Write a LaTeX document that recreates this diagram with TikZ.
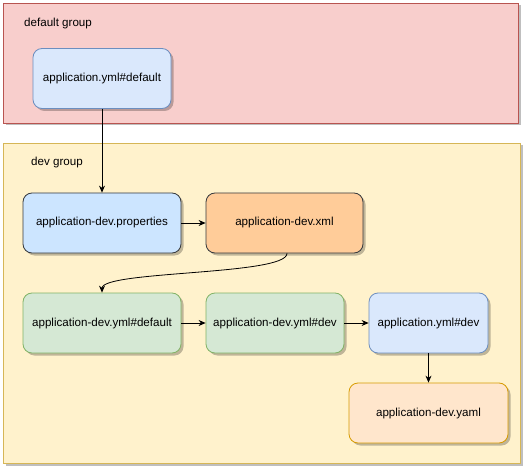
\documentclass[tikz,border=0pt]{standalone}
\usepackage{fontspec}
\setmainfont{Liberation Sans}
\usetikzlibrary{shadows,arrows.meta}
\definecolor{redfill}{HTML}{F8CECC}
\definecolor{redline}{HTML}{B85450}
\definecolor{yelfill}{HTML}{FFF2CC}
\definecolor{yelline}{HTML}{D6B656}
\definecolor{bluefill}{HTML}{DAE8FC}
\definecolor{blueline}{HTML}{6C8EBF}
\definecolor{lbluefill}{HTML}{CCE5FF}
\definecolor{darkline}{HTML}{36393D}
\definecolor{orfill}{HTML}{FFCC99}
\definecolor{grfill}{HTML}{D5E8D4}
\definecolor{grline}{HTML}{82B366}
\definecolor{pkfill}{HTML}{FFE6CC}
\definecolor{pkline}{HTML}{D79B00}
\tikzset{
  shad/.style={drop shadow={shadow xshift=2.5pt,shadow yshift=-2.5pt,fill=black,opacity=0.25}},
  grp/.style={draw, rectangle, shad, inner sep=0pt, line width=0.8pt},
  box/.style={draw, rectangle, rounded corners=9pt, shad, inner sep=0pt, line width=0.8pt,
    font=\fontsize{11.6}{14}\selectfont, minimum height=60pt},
  lbl/.style={font=\fontsize{11.6}{14}\selectfont, inner sep=0pt, anchor=west},
  conn/.style={draw=black, line width=0.8pt, -{Stealth[length=7pt,width=6pt]}}
}
\begin{document}
\begin{tikzpicture}[x=1pt,y=-1pt]
\useasboundingbox (0,0) rectangle (529,470);
\node[grp, fill=redfill, draw=redline, minimum width=515pt, minimum height=120pt] (dg) at (260.5,63) {};
\node[grp, fill=yelfill, draw=yelline, minimum width=517pt, minimum height=320pt] (vg) at (261.5,303) {};
\node[lbl] (dgl) at (24,24) {default group};
\node[lbl] (vgl) at (31,163) {dev group};
\node[box, fill=bluefill, draw=blueline, minimum width=138pt] (ad) at (102,78.5) {application.yml\#default};
\node[box, fill=lbluefill, draw=darkline, minimum width=158pt] (dp) at (102,223) {application-dev.properties};
\node[box, fill=orfill, draw=darkline, minimum width=157pt] (dx) at (284.5,223) {application-dev.xml};
\node[box, fill=grfill, draw=grline, minimum width=158pt] (dyd) at (102,323) {application-dev.yml\#default};
\node[box, fill=grfill, draw=grline, minimum width=138pt] (dyv) at (275,323) {application-dev.yml\#dev};
\node[box, fill=bluefill, draw=blueline, minimum width=119pt] (ayd) at (428.5,323) {application.yml\#dev};
\node[box, fill=pkfill, draw=pkline, minimum width=159pt] (dya) at (428.5,413) {application-dev.yaml};
\draw[conn] (ad.south) -- (dp.north);
\draw[conn] (dp.east) -- (dx.east -| dx.west);
\draw[conn] ([xshift=2.5pt]dx.south) .. controls +(0,22) and +(0,-22) .. (dyd.north);
\draw[conn] (dyd.east) -- (dyv.west);
\draw[conn] (dyv.east) -- (ayd.west);
\draw[conn] (ayd.south) -- (dya.north);
\end{tikzpicture}
\end{document}
